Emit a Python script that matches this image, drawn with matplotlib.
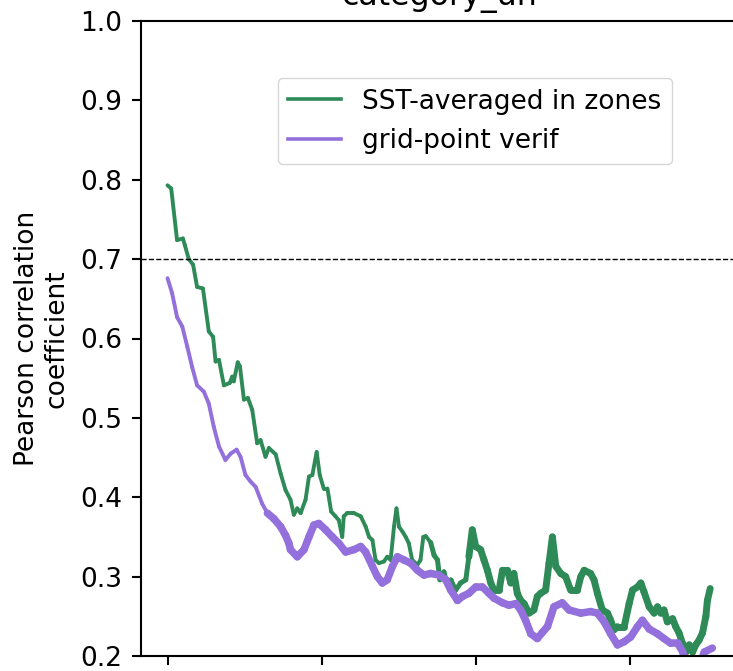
import numpy as np
import matplotlib
matplotlib.use('Agg')
import matplotlib.pyplot as plt
from matplotlib.collections import LineCollection
from matplotlib.lines import Line2D

# 数据 (lead, correlation)
x_zones = [0, 1.2, 3.1, 5.0, 5.6, 6.9, 8.3, 9.6, 11.5, 13.4, 14.8, 15.6, 16.7, 18.3, 20.2, 21.0,
           21.5, 22.8, 23.5, 24.8, 26.1, 27.5, 29.1, 30.2, 31.8, 32.9, 35.1, 36.7, 38.3, 39.9,
           41.0, 42.1, 43.2, 44.8, 45.9, 47.0, 48.4, 49.4, 50.7, 51.9, 53.1, 54.5, 55.6, 56.7,
           57.2, 58.3, 60.5, 62.7, 64.3, 65.4, 66.5, 67.5, 68.6, 70.2, 71.3, 72.4, 73.5, 74.3,
           75.1, 76.2, 77.3, 78.3, 79.4, 81.1, 82.1, 83.0, 83.8, 85.4, 86.5, 87.6, 88.4, 89.7,
           90.3, 91.9, 93.5, 95.1, 96.8, 97.8, 98.9, 100.0, 101.6, 102.7, 103.8, 104.9, 105.9,
           107.6, 108.7, 110.3, 111.4, 112.4, 113.5, 114.6, 115.7, 117.3, 118.9, 120.0, 121.1,
           122.7, 123.8, 124.9, 126.0, 127.6, 129.2, 130.8, 133.0, 134.1, 135.2, 137.3, 138.4,
           139.5, 141.1, 142.8, 143.8, 144.9, 146.0, 148.2, 149.8, 150.9, 152.5, 153.6, 154.6,
           156.3, 157.9, 159.0, 160.1, 161.1, 162.2, 163.9, 164.9, 166.0, 167.1, 168.2, 169.3,
           170.4, 171.4, 172.5, 173.6, 174.7, 175.2, 176.1]
r_zones = [0.793, 0.789, 0.724, 0.726, 0.718, 0.700, 0.693, 0.665, 0.663, 0.609, 0.602, 0.571,
           0.573, 0.541, 0.544, 0.552, 0.546, 0.570, 0.565, 0.523, 0.525, 0.510, 0.468, 0.472,
           0.451, 0.462, 0.454, 0.430, 0.409, 0.397, 0.378, 0.386, 0.380, 0.397, 0.426, 0.428,
           0.457, 0.428, 0.411, 0.411, 0.382, 0.376, 0.371, 0.350, 0.376, 0.380, 0.380, 0.376,
           0.363, 0.350, 0.346, 0.321, 0.317, 0.319, 0.325, 0.321, 0.363, 0.386, 0.363, 0.357,
           0.350, 0.342, 0.321, 0.315, 0.321, 0.350, 0.351, 0.343, 0.327, 0.321, 0.296, 0.306,
           0.296, 0.296, 0.283, 0.292, 0.296, 0.325, 0.359, 0.338, 0.334, 0.321, 0.308, 0.292,
           0.283, 0.283, 0.308, 0.308, 0.292, 0.304, 0.279, 0.270, 0.266, 0.254, 0.258, 0.275,
           0.279, 0.283, 0.317, 0.350, 0.313, 0.304, 0.300, 0.283, 0.283, 0.300, 0.308, 0.304,
           0.296, 0.279, 0.258, 0.254, 0.245, 0.233, 0.237, 0.237, 0.266, 0.283, 0.287, 0.292,
           0.281, 0.262, 0.254, 0.262, 0.254, 0.258, 0.243, 0.247, 0.237, 0.229, 0.216, 0.205,
           0.214, 0.205, 0.214, 0.220, 0.229, 0.250, 0.270, 0.285]

x_grid = [0, 1.5, 3.1, 4.8, 6.4, 8.0, 9.6, 11.8, 13.4, 15.0, 16.7, 18.8, 20.5, 22.4, 23.7, 25.3,
          26.9, 28.6, 30.7, 32.4, 34.5, 36.7, 38.3, 39.4, 39.9, 42.1, 44.3, 45.9, 47.5, 49.1,
          51.3, 53.5, 55.6, 57.8, 60.5, 62.7, 64.3, 66.5, 68.1, 69.7, 71.3, 73.0, 74.6, 76.7,
          78.9, 81.1, 83.2, 85.4, 88.1, 90.3, 91.9, 94.1, 95.7, 97.8, 100.0, 102.2, 104.3, 105.9,
          108.7, 110.8, 113.0, 114.6, 116.2, 117.9, 120.0, 121.7, 123.3, 125.4, 128.1, 130.3,
          134.1, 137.3, 139.5, 141.7, 143.8, 146.0, 148.2, 150.3, 152.5, 154.1, 156.3, 159.0,
          161.1, 163.3, 165.5, 167.1, 168.2, 170.5, 172.4, 174.2, 176.8]
r_grid = [0.676, 0.657, 0.627, 0.615, 0.590, 0.564, 0.541, 0.533, 0.518, 0.489, 0.464, 0.447,
          0.455, 0.460, 0.451, 0.428, 0.420, 0.413, 0.392, 0.380, 0.373, 0.363, 0.352, 0.342,
          0.334, 0.325, 0.334, 0.350, 0.365, 0.367, 0.359, 0.350, 0.342, 0.331, 0.334, 0.338,
          0.331, 0.313, 0.300, 0.292, 0.296, 0.313, 0.325, 0.321, 0.317, 0.308, 0.302, 0.304,
          0.302, 0.296, 0.283, 0.270, 0.275, 0.279, 0.287, 0.287, 0.279, 0.273, 0.267, 0.264,
          0.266, 0.258, 0.245, 0.228, 0.222, 0.230, 0.237, 0.262, 0.267, 0.258, 0.254, 0.256,
          0.254, 0.243, 0.228, 0.214, 0.218, 0.224, 0.237, 0.245, 0.234, 0.228, 0.222, 0.216,
          0.216, 0.206, 0.192, 0.175, 0.185, 0.205, 0.210]

GREEN = '#2e8b57'
PURPLE = '#9370db'
S = 1.9  # 原图 dpi 约 190


def draw_line(ax, x, y, color, widths):
    pts = np.column_stack([x, y])
    segs = np.stack([pts[:-1], pts[1:]], axis=1)
    lc = LineCollection(segs, colors=color, linewidths=widths, capstyle='round',
                        joinstyle='round')
    ax.add_collection(lc)


fig = plt.figure(figsize=(7.33, 6.71), dpi=100)
ax = fig.add_axes([141 / 733, 1 - 656 / 671, 596 / 733, 635 / 671])

# 线宽随提前期变化
xz = np.array(x_zones)
xg = np.array(x_grid)
wz = np.where(xz[:-1] < 85, 2.8, np.where(xz[:-1] < 97, 3.6, 5.0))
wg = np.where(xg[:-1] < 31, 2.8, 5.4)
draw_line(ax, x_zones, r_zones, GREEN, wz)
draw_line(ax, x_grid, r_grid, PURPLE, wg)

ax.axhline(0.7, color='black', linestyle='--', linewidth=1.0)

ax.set_xlim(-8.6, 184.8)
ax.set_ylim(0.2, 1.0)
ax.set_yticks(np.arange(0.2, 1.01, 0.1))
ax.set_xticks([0, 50, 100, 150])
ax.set_xticklabels(['', '', '', ''])
ax.tick_params(labelsize=10 * S, length=3.5 * S, width=0.8 * S, pad=3.5 * S)
for sp in ax.spines.values():
    sp.set_linewidth(0.8 * S)
ax.spines['right'].set_visible(False)

ax.set_ylabel('Pearson correlation\ncoefficient', fontsize=10 * S, labelpad=4 * S)
ax.set_title('category_un', fontsize=12 * S, pad=6 * S)

handles = [Line2D([], [], color=GREEN, lw=2.6), Line2D([], [], color=PURPLE, lw=2.6)]
ax.legend(handles, ['SST-averaged in zones', 'grid-point verif'], fontsize=10 * S,
          loc='upper right', bbox_to_anchor=(0.891, 0.910), borderaxespad=0)

fig.savefig('out.png', dpi=100)
